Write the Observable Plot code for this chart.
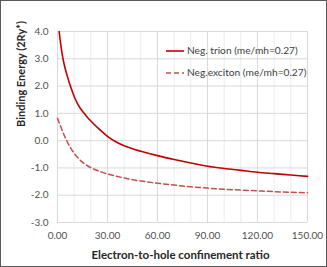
<!DOCTYPE html>
<html>
<head>
<meta charset="utf-8">
<script src="https://cdn.jsdelivr.net/npm/d3@7"></script>
<script src="https://cdn.jsdelivr.net/npm/@observablehq/plot@0.6"></script>
<style>
  html, body { margin: 0; padding: 0; background: #fff; }
  #wrap { position: relative; width: 327px; height: 267px; overflow: hidden; font-family: Lato, "Open Sans", sans-serif; }
  #wrap svg { position: absolute; left: 0; top: 0; }
  #border { position: absolute; left: 0; top: 0; width: 325px; height: 265px; border: 1px solid #595959; pointer-events: none; }
  .leg { position: absolute; left: 166px; font-size: 10.2px; color: #404040; white-space: nowrap; line-height: 12px; }
  .leg svg { position: static !important; vertical-align: middle; margin-right: 3px; }
</style>
</head>
<body>
<div id="wrap"></div>
<script>
const trionName = "Neg. trion (me/mh=0.27)";
const excitonName = "Neg.exciton (me/mh=0.27)";
const xTitle = "Electron-to-hole confinement ratio";
const yTitle = "Binding Energy (2Ry*)";

const trionX = [1, 2, 3, 4, 5, 6, 7, 8, 9, 10, 11, 12, 14, 16, 18, 20, 25, 30, 35, 40, 45, 50, 60, 70, 80, 90, 100, 110, 120, 130, 140, 150];
const trionY = [4.0, 3.5, 3.1, 2.8, 2.55, 2.34, 2.14, 1.96, 1.78, 1.62, 1.48, 1.36, 1.16, 1.0, 0.85, 0.72, 0.42, 0.16, -0.04, -0.19, -0.3, -0.39, -0.55, -0.69, -0.82, -0.94, -1.02, -1.09, -1.16, -1.21, -1.26, -1.31];

const excitonX = [0, 2, 4, 6, 8, 10, 12, 14, 16, 18, 20, 25, 30, 35, 40, 45, 50, 60, 70, 80, 90, 100, 110, 120, 130, 140, 150];
const excitonY = [0.82, 0.5, 0.2, -0.06, -0.28, -0.46, -0.61, -0.74, -0.84, -0.92, -0.99, -1.12, -1.22, -1.30, -1.37, -1.43, -1.48, -1.56, -1.63, -1.69, -1.74, -1.78, -1.81, -1.84, -1.87, -1.89, -1.91];

const xTicks = [0, 30, 60, 90, 120, 150];
const xMinor = [10, 20, 40, 50, 70, 80, 100, 110, 130, 140];
const yTicks = [-3, -2, -1, 0, 1, 2, 3, 4];

const trion = trionX.map((x, i) => ({x, y: trionY[i]}));
const exciton = excitonX.map((x, i) => ({x, y: excitonY[i]}));

const chart = Plot.plot({
  width: 327,
  height: 267,
  marginLeft: 57,
  marginRight: 20,
  marginTop: 31,
  marginBottom: 45,
  style: {fontFamily: "Lato, 'Open Sans', sans-serif", fontSize: "10px", color: "#505050", background: "transparent"},
  x: {domain: [0, 150], ticks: xTicks, tickFormat: d => d.toFixed(2), tickSize: 0, tickPadding: 9, label: null},
  y: {domain: [-3, 4], ticks: yTicks, tickFormat: d => d.toFixed(1), tickSize: 0, tickPadding: 9, label: null},
  marks: [
    Plot.ruleX(xMinor, {stroke: "#ececec", strokeWidth: 1}),
    Plot.ruleX(xTicks, {stroke: "#d9d9d9", strokeWidth: 1}),
    Plot.ruleY(yTicks, {stroke: "#d9d9d9", strokeWidth: 1}),
    Plot.line(exciton, {x: "x", y: "y", stroke: "#c0504d", strokeWidth: 1.5, strokeDasharray: "5,3", curve: "monotone-x"}),
    Plot.line(trion, {x: "x", y: "y", stroke: "#c00000", strokeWidth: 1.6, curve: "monotone-x"}),
    Plot.text([yTitle], {frameAnchor: "left", rotate: -90, dx: -36, fontSize: 11, fontWeight: "bold", fill: "#262626"}),
    Plot.text([xTitle], {frameAnchor: "bottom", dy: 36, dx: -2, fontSize: 11.5, fontWeight: "bold", fill: "#262626"})
  ]
});

const wrap = document.getElementById("wrap");
wrap.appendChild(chart);

function legendItem(top, name, color, dash) {
  const d = document.createElement("div");
  d.className = "leg";
  d.style.top = top + "px";
  d.innerHTML = `<svg width="18" height="4"><line x1="0" y1="2" x2="18" y2="2" stroke="${color}" stroke-width="1.6" ${dash ? 'stroke-dasharray="5,3"' : ''}/></svg>` + name;
  wrap.appendChild(d);
}
legendItem(44, trionName, "#c00000", false);
legendItem(66, excitonName, "#c0504d", true);

const b = document.createElement("div");
b.id = "border";
wrap.appendChild(b);
</script>
</body>
</html>
